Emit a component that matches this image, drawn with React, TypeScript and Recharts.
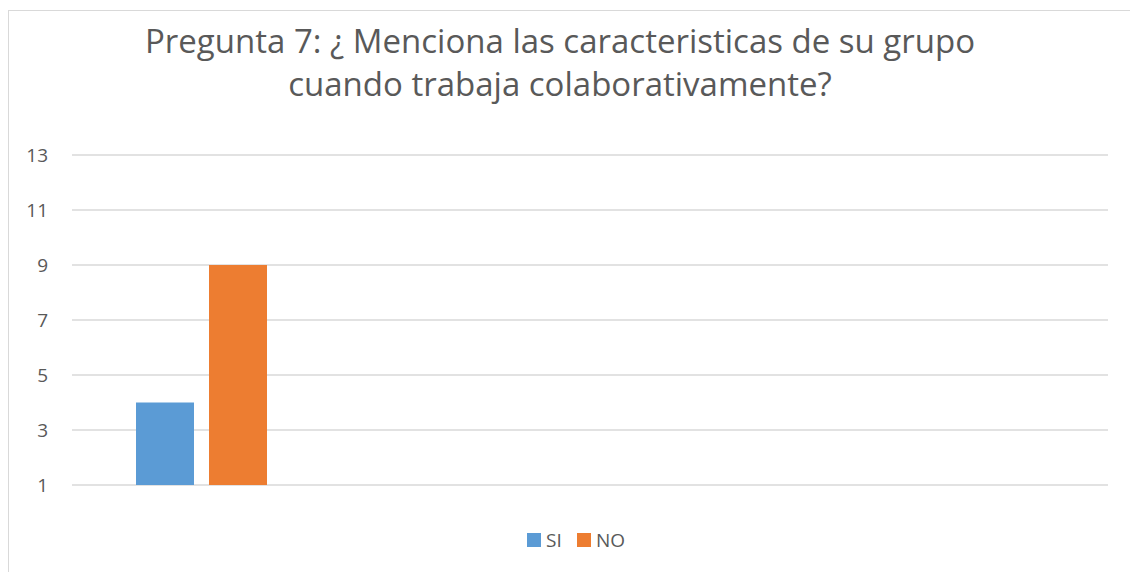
import React from 'react';
import { BarChart, Bar, XAxis, YAxis, CartesianGrid } from 'recharts';

const categories = ['Pregunta 7', 'c2', 'c3', 'c4'];
const siValues: (number | null)[] = [4, null, null, null];
const noValues: (number | null)[] = [9, null, null, null];
const yTicks = [1, 3, 5, 7, 9, 11, 13];
const titleLines = ['Pregunta 7: ¿ Menciona las caracteristicas de su grupo', 'cuando trabaja colaborativamente?'];
const seriesNames = ['SI', 'NO'];
const seriesColors = ['#5b9bd5', '#ed7d31'];

const data = categories.map((c, i) => ({ name: c, SI: siValues[i], NO: noValues[i] }));

const FONT = '"Open Sans", "Noto Sans", sans-serif';

export default function App() {
  return (
    <div style={{ position: 'fixed', left: 0, top: 0, width: 1130, height: 572, overflow: 'hidden', background: '#fff' }}>
      <div style={{ position: 'absolute', left: 8, top: 10, width: 1300, height: 800, border: '1.5px solid #d9d9d9', boxSizing: 'border-box' }} />
      <div style={{ position: 'absolute', left: 0, top: 0 }}>
        <BarChart
          width={1130}
          height={572}
          data={data}
          margin={{ top: 155, right: 22, bottom: 87, left: 12 }}
          barSize={58}
          barGap={15}
        >
          <CartesianGrid vertical={false} stroke="#d9d9d9" strokeWidth={1.5} />
          <XAxis dataKey="name" hide />
          <YAxis
            width={60}
            domain={[1, 13]}
            ticks={yTicks}
            axisLine={false}
            tickLine={false}
            tickSize={0}
            tickMargin={24}
            interval={0}
            tick={{ fill: '#595959', fontSize: 19, fontFamily: FONT }}
          />
          <Bar dataKey="SI" fill={seriesColors[0]} isAnimationActive={false} />
          <Bar dataKey="NO" fill={seriesColors[1]} isAnimationActive={false} />
        </BarChart>
      </div>
      <svg width={1130} height={572} style={{ position: 'absolute', left: 0, top: 0, pointerEvents: 'none' }}>
        <text x={560} y={53} textAnchor="middle" fill="#595959" fontSize={33} fontFamily={FONT}>{titleLines[0]}</text>
        <text x={560} y={96} textAnchor="middle" fill="#595959" fontSize={33} fontFamily={FONT}>{titleLines[1]}</text>
        <rect x={527} y={533} width={14} height={14} fill={seriesColors[0]} />
        <text x={546} y={547} fill="#595959" fontSize={19} fontFamily={FONT}>{seriesNames[0]}</text>
        <rect x={577} y={533} width={14} height={14} fill={seriesColors[1]} />
        <text x={596} y={547} fill="#595959" fontSize={19} fontFamily={FONT}>{seriesNames[1]}</text>
      </svg>
    </div>
  );
}
